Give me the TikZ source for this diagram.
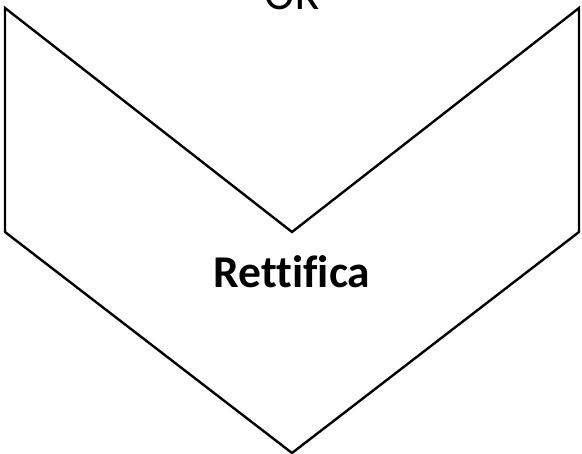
\documentclass[tikz,border=0pt]{standalone}
\usepackage{fontspec}
\setmainfont{Carlito}[Ligatures={NoCommon}]
\usetikzlibrary{positioning}

\tikzset{
  chevron/.style={draw=black, line width=2.4pt, line join=miter},
  steplabel/.style={font=\fontsize{45.5}{50}\selectfont\bfseries},
  prevlabel/.style={font=\fontsize{46}{50}\selectfont}
}

\begin{document}
\begin{tikzpicture}[x=1pt,y=-1pt]
    % Frame
    \useasboundingbox (0,0) rectangle (582,454);
    \clip (0,0) rectangle (582,454);

    % Chevron
    \draw[chevron] (5,8) -- (292,232) -- (579,8) -- (579,232)
      -- (292,453) -- (5,232) -- cycle;

    % Labels
    \node[steplabel, anchor=base] (rett) at (292,288) {Rettifica};
    \node[prevlabel, anchor=base] (ok) at (292,10) {OK};
  \end{tikzpicture}
\end{document}
